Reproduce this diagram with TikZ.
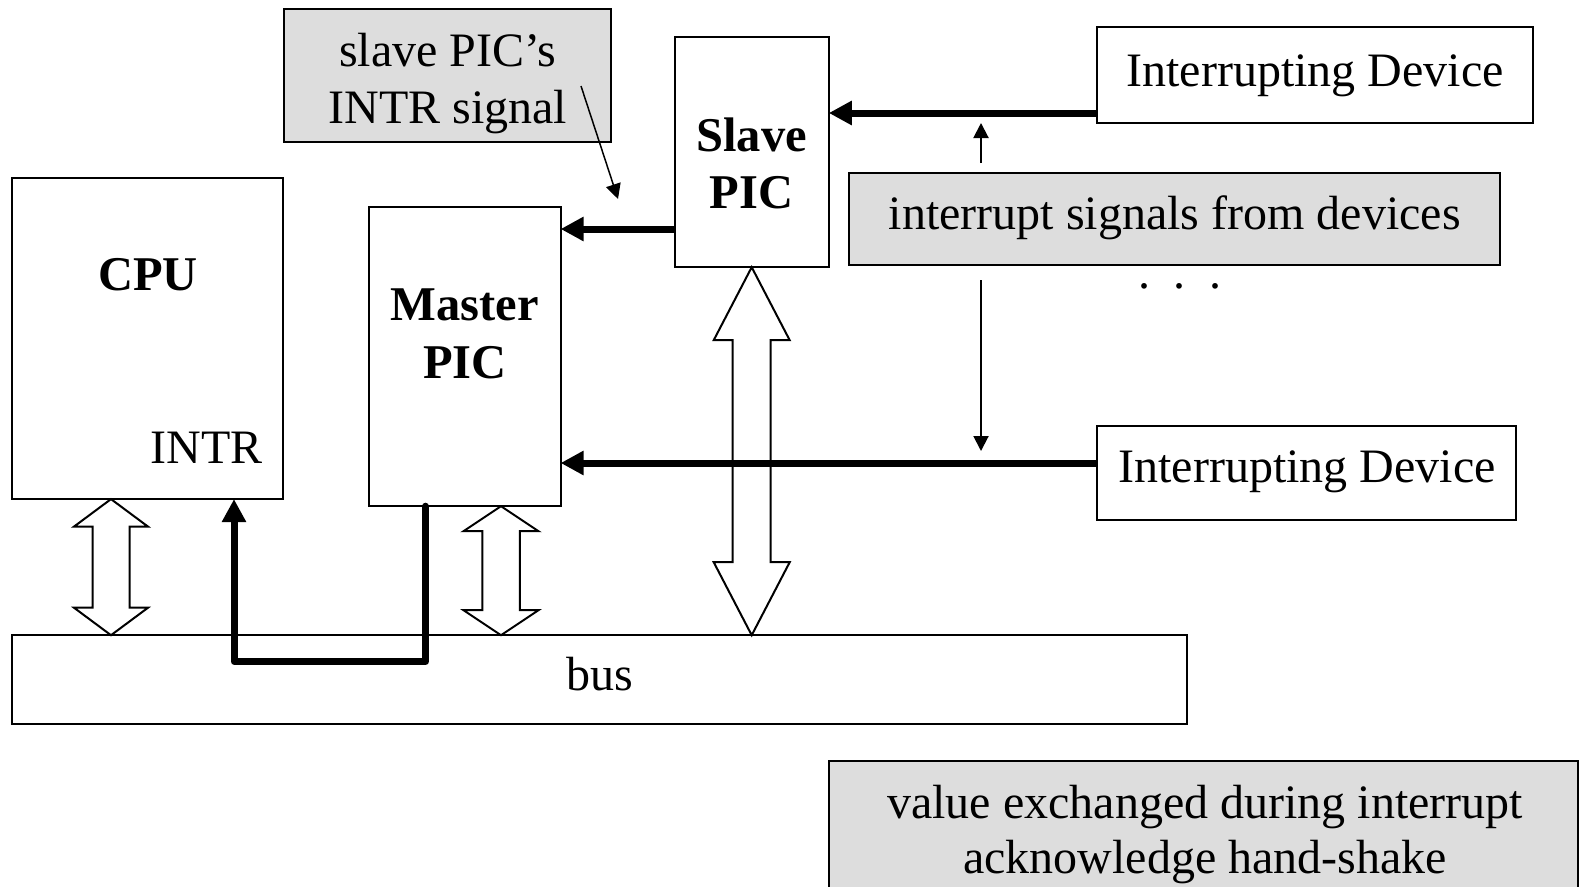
\documentclass[tikz,border=0pt]{standalone}
\usepackage{fontspec}
\setmainfont{Liberation Serif}
\usetikzlibrary{arrows.meta,calc}
\definecolor{notegray}{RGB}{221,221,221}

% Hollow double-headed arrow between two points on a vertical line.
% #1 top tip, #2 bottom tip, #3 head length, #4 head half-width, #5 shaft half-width
\newcommand\hollowarrow[5]{%
  \draw[hollow] (#1)
    -- ++(-#4,#3) -- ++({#4-#5},0)
    -- ($(#2)+(-#5,-#3)$) -- ++({#5-#4},0) -- (#2)
    -- ++(#4,-#3) -- ++({#5-#4},0)
    -- ($(#1)+(#5,#3)$) -- ++({#4-#5},0) -- cycle;}

\begin{document}
\begin{tikzpicture}[x=1pt,y=-1pt,
  every node/.style={font=\fontsize{48}{57.5}\selectfont},
  box/.style={draw, line width=2pt, fill=white, inner sep=0pt, outer sep=0pt, anchor=north west},
  note/.style={box, fill=notegray},
  lbl/.style={anchor=base, inner sep=0pt},
  boldlbl/.style={lbl, font=\fontsize{48.5}{57.5}\selectfont\bfseries},
  heavy/.style={line width=7pt, -{Triangle[length=23pt,width=23pt]}},
  signal/.style={line width=2pt, -{Triangle[length=15pt,width=15pt]}},
  hollow/.style={draw, line width=2pt, fill=white, line join=miter},
]
\useasboundingbox (0,0) rectangle (1581,886);
\clip (0,0) rectangle (1581,886);

% boxes
\node[note, minimum width=326.7, minimum height=133.1] (ann) at (284.3,9.1) {};
\node[box, minimum width=154.2, minimum height=229.9] (slave) at (674.6,37.3) {};
\node[box, minimum width=436, minimum height=95.8] (devA) at (1097,27.2) {};
\node[note, minimum width=651.4, minimum height=91.8] (sig) at (849,173.4) {};
\node[box, minimum width=271.2, minimum height=321.6] (cpu) at (12.1,177.5) {};
\node[box, minimum width=191.6, minimum height=299.5] (master) at (369,206.7) {};
\node[box, minimum width=419.4, minimum height=94.8] (devB) at (1097,425.5) {};
\node[box, minimum width=1174.7, minimum height=88.8] (bus) at (12.1,635.2) {};
\node[note, minimum width=749, minimum height=140] (ack) at (829,761) {};

% labels
\node[lbl] (annA) at (447.7,66) {slave PIC’s};
\node[lbl] (annB) at (447.7,123) {INTR signal};
\node[boldlbl] (slaveA) at (751.7,151) {Slave};
\node[boldlbl] (slaveB) at (751.7,208.5) {PIC};
\node[lbl] (devAtxt) at (1315,86.5) {Interrupting Device};
\node[lbl] (sigtxt) at (1174.7,229) {interrupt signals from devices};
\node[lbl] (dots) at (1180,288) {.\hspace{23.5pt}.\hspace{23.5pt}.};
\node[boldlbl] (cputxt) at (148,290) {CPU};
\node[lbl] (intrtxt) at (206.7,463) {INTR};
\node[boldlbl] (masterA) at (464.8,320.5) {Master};
\node[boldlbl] (masterB) at (464.8,378) {PIC};
\node[lbl] (devBtxt) at (1307,482) {Interrupting Device};
\node[lbl] (bustxt) at (600,690) {bus};
\node[lbl] (ackA) at (1205,818) {value exchanged during interrupt};
\node[lbl] (ackB) at (1205,873) {acknowledge hand-shake};

% helper coordinates
\coordinate (xA) at (111,0);
\coordinate (xB) at (501,0);
\coordinate (xIntr) at (234,0);
\coordinate (xAck) at (425.5,0);
\coordinate (yLow) at (0,661.5);
\coordinate (yS) at (0,229);
\coordinate (yA) at (0,113);
\coordinate (yB) at (0,463);

% data paths to the bus
\coordinate (a1t) at (cpu.south -| xA);
\coordinate (a1b) at (bus.north -| xA);
\coordinate (a2t) at (master.south -| xB);
\coordinate (a2b) at (bus.north -| xB);
\coordinate (a3t) at (slave.south);
\coordinate (a3b) at (bus.north -| slave.south);
\hollowarrow{a1t}{a1b}{27.5}{37}{18.5}
\hollowarrow{a2t}{a2b}{25}{37.5}{18.75}
\hollowarrow{a3t}{a3b}{73}{38}{19}

% interrupt request lines
\draw[heavy] (slave.west |- yS) -- (master.east |- yS);
\draw[heavy] (devA.west |- yA) -- (slave.east |- yA);
\draw[heavy] (devB.west |- yB) -- (master.east |- yB);
\draw[heavy, line cap=round, line join=round]
  (master.south -| xAck) -- (xAck |- yLow) -- (xIntr |- yLow) -- (cpu.south -| xIntr);

% annotation pointers
\coordinate (upS) at (981,163);
\coordinate (upE) at (981,123);
\coordinate (dnS) at (981,280);
\coordinate (dnE) at (981,451);
\draw[signal] (upS) -- (upE);
\draw[signal] (dnS) -- (dnE);
\coordinate (annS) at (581,86);
\coordinate (annE) at (618,199);
\draw[signal, line width=1.5pt] (annS) -- (annE);
\end{tikzpicture}
\end{document}
